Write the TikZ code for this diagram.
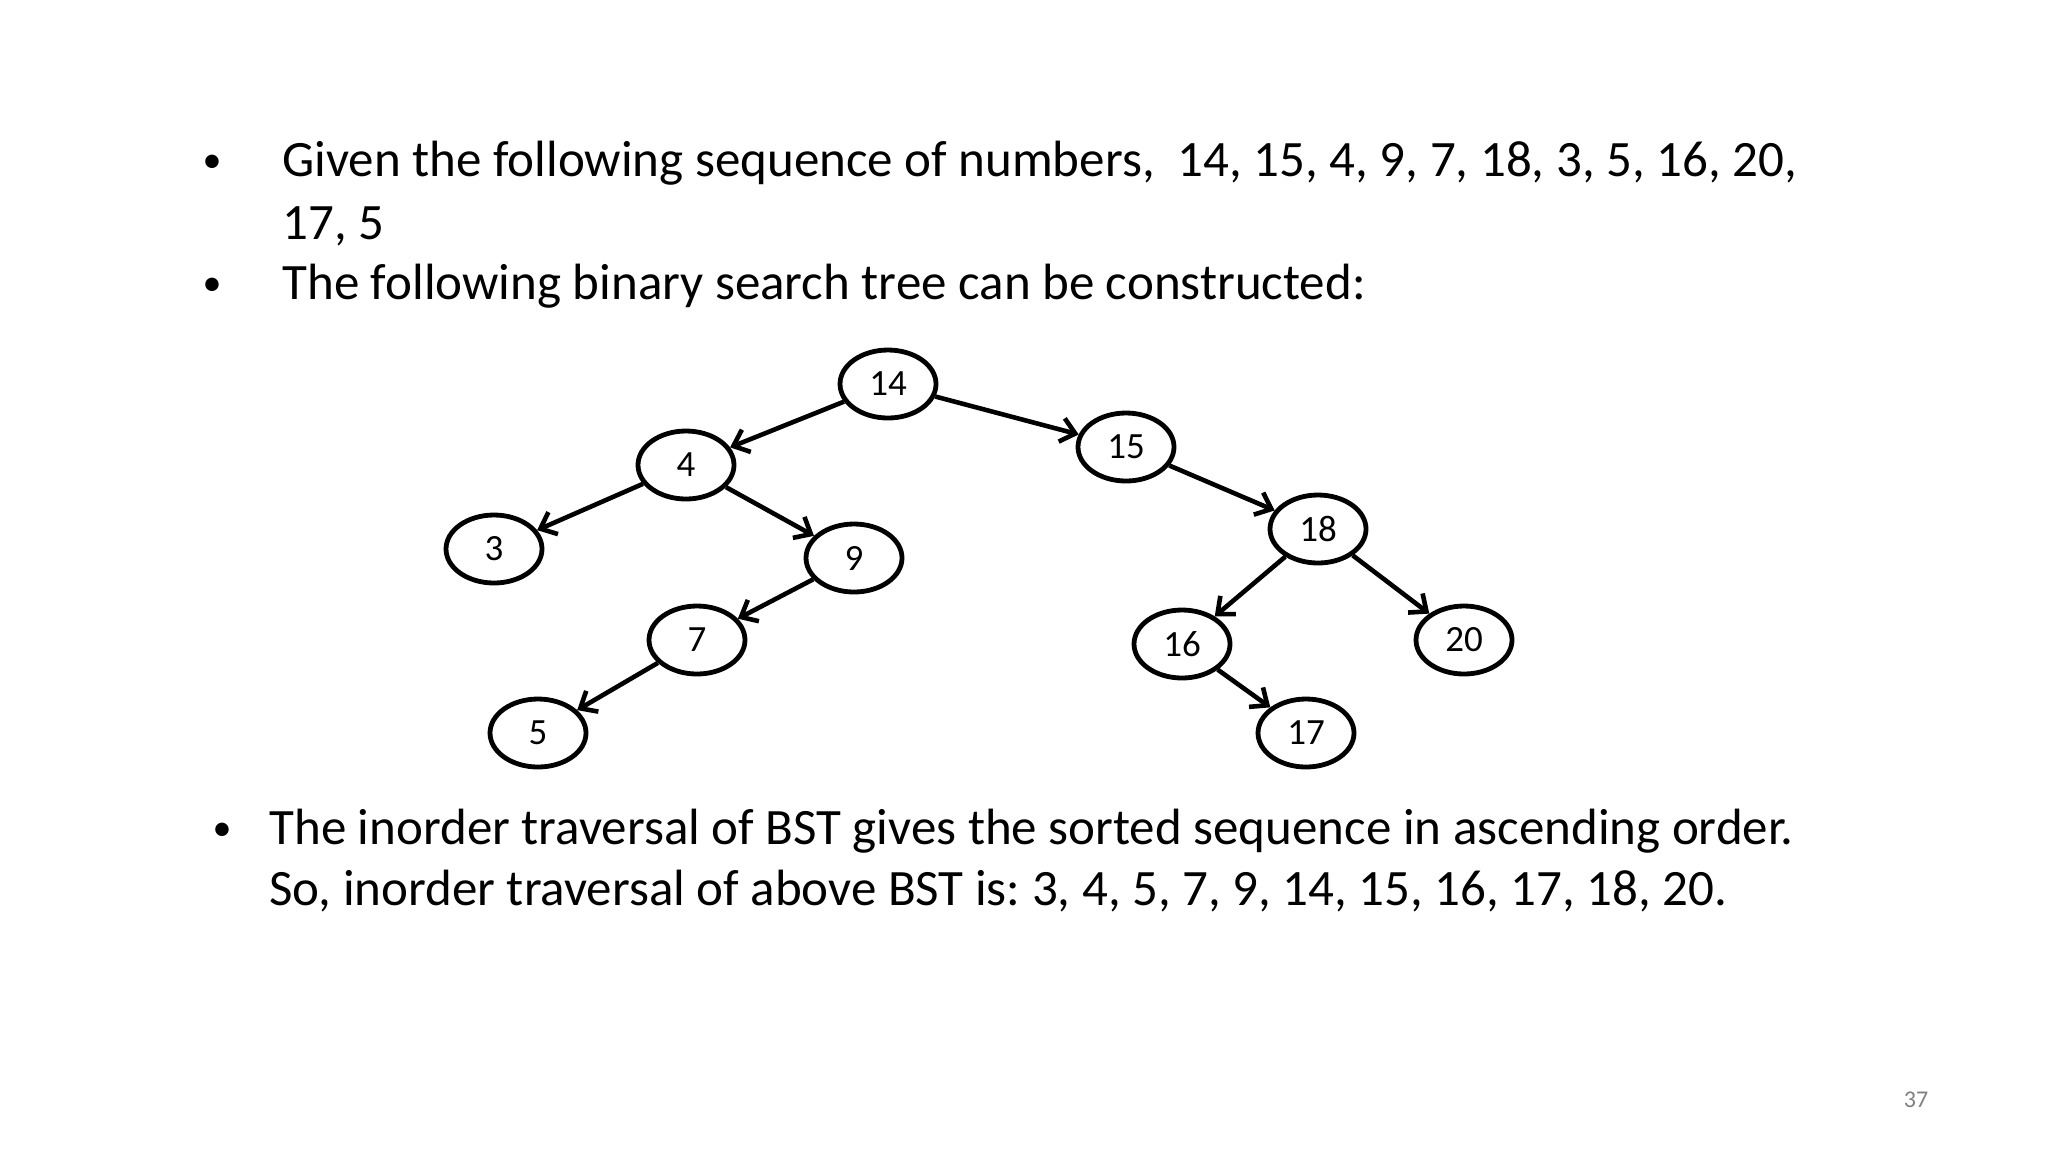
\documentclass[tikz,border=0pt]{standalone}
\usepackage{fontspec}
\setmainfont{Carlito}
\usetikzlibrary{arrows.meta,shapes.geometric}
\frenchspacing
\begin{document}
\begin{tikzpicture}[x=0.5pt,y=-0.5pt,
  bstnode/.style={ellipse,draw=black,line width=2.4pt,minimum width=48pt,minimum height=34pt,inner sep=0pt,font=\fontsize{18.5}{22}\selectfont},
  edge/.style={line width=2.3pt,-{Straight Barb[length=7pt,width=12pt,line width=2.3pt]}},
  body/.style={anchor=base west,inner sep=0pt,font=\fontsize{25.5}{30}\selectfont},
  bul/.style={anchor=base,inner sep=0pt,font=\fontsize{19}{22}\selectfont}]
\path[use as bounding box] (0,0) rectangle (2048,1152);
% top text
\node[bul] (b1) at (212,172) {•};
\node[body] (t1) at (282,176) {Given the following sequence of numbers,\ \ 14, 15, 4, 9, 7, 18, 3, 5, 16, 20,};
\node[body] (t2) at (282,239) {17, 5};
\node[bul] (b2) at (212,295) {•};
\node[body] (t3) at (282,299) {The following binary search tree can be constructed:};
% tree
\node[bstnode] (n14) at (888,384) {14};
\node[bstnode] (n4) at (686,465) {4};
\node[bstnode] (n15) at (1126,447) {15};
\node[bstnode] (n3) at (494,549) {3};
\node[bstnode] (n9) at (854,558) {9};
\node[bstnode] (n18) at (1318,529) {18};
\node[bstnode] (n7) at (697,640) {7};
\node[bstnode] (n16) at (1182,644) {16};
\node[bstnode] (n20) at (1464,640) {20};
\node[bstnode] (n5) at (538,733) {5};
\node[bstnode] (n17) at (1306,733) {17};
\draw[edge] (n14) -- (n4);
\draw[edge] (n14) -- (n15);
\draw[edge] (n4) -- (n3);
\draw[edge] (n4) -- (n9);
\draw[edge] (n9) -- (n7);
\draw[edge] (n7) -- (n5);
\draw[edge] (n15) -- (n18);
\draw[edge] (n18) -- (n16);
\draw[edge] (n18) -- (n20);
\draw[edge] (n16) -- (n17);
% bottom text
\node[bul] (b3) at (222,840) {•};
\node[body] (t4) at (269,844) {The inorder traversal of BST gives the sorted sequence in ascending order.};
\node[body] (t5) at (269,905) {So, inorder traversal of above BST is: 3, 4, 5, 7, 9, 14, 15, 16, 17, 18, 20.};
% page number
\node[anchor=center,inner sep=0pt,text=black!50,font=\fontsize{12}{14}\selectfont] (pg) at (1916,1100) {37};
\end{tikzpicture}
\end{document}
